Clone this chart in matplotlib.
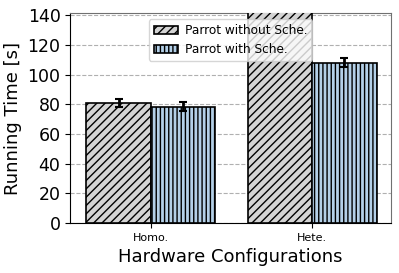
import matplotlib
matplotlib.use("Agg")
import matplotlib.pyplot as plt
import numpy as np

categories = ["Homo.", "Hete."]
series_names = ["Parrot without Sche.", "Parrot with Sche."]
without_vals = [81, 150]
without_err = [2.5, 3]
with_vals = [78.5, 108]
with_err = [3, 3]

plt.rcParams['hatch.linewidth'] = 1.0
plt.rcParams['hatch.color'] = 'black'
fig, ax = plt.subplots(figsize=(3.99, 2.73), dpi=100)
x = np.arange(len(categories))
w = 0.4
ax.bar(x - w/2, without_vals, w, yerr=without_err, color="#d3d3d3", edgecolor="black",
       hatch="////", linewidth=1.2, capsize=3, error_kw=dict(elinewidth=2, capthick=1.5),
       label=series_names[0], zorder=3)
ax.bar(x + w/2, with_vals, w, yerr=with_err, color="#b4d0e8", edgecolor="black",
       hatch="||||", linewidth=1.2, capsize=3, error_kw=dict(elinewidth=2, capthick=1.5),
       label=series_names[1], zorder=3)
ax.set_ylim(0, 141.5)
ax.set_xlim(-0.5, 1.49)
ax.set_xticks(x)
ax.set_xticklabels(categories, fontsize=8)
ax.tick_params(axis='y', labelsize=12.5)
ax.set_yticks(range(0, 141, 20))
ax.set_ylabel("Running Time [s]", fontsize=13)
ax.set_xlabel("Hardware Configurations", fontsize=13)
ax.yaxis.grid(True, linestyle="--", color="#b0b0b0", zorder=0)
ax.set_axisbelow(True)
for s in ["top", "right"]:
    ax.spines[s].set_color("#707070")
leg = ax.legend(loc="upper center", fontsize=8.7, framealpha=0.8, handlelength=2.0,
                borderpad=0.4, labelspacing=0.5, handletextpad=0.6)
leg.set_zorder(5)
fig.subplots_adjust(left=0.176, right=0.98, top=0.952, bottom=0.183)
fig.savefig("out.png", dpi=100)
